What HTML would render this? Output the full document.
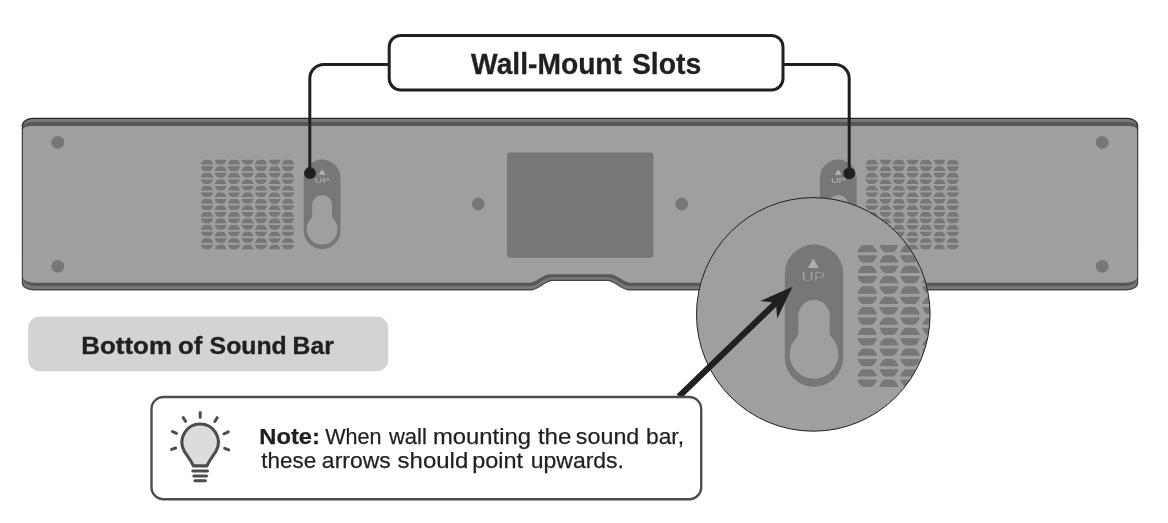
<!DOCTYPE html>
<html lang="en"><head><meta charset="utf-8"><title>Wall-Mount Slots</title>
<style>
html,body{margin:0;padding:0;background:#fff;}
body{width:1168px;height:523px;overflow:hidden;font-family:"Liberation Sans",sans-serif;}
svg{display:block;}
svg{will-change:transform;}
</style></head><body>
<svg width="1168" height="523" viewBox="0 0 1168 523">
<rect width="1168" height="523" fill="#fff"/>

<defs><linearGradient id="og" gradientUnits="userSpaceOnUse" x1="0" y1="118" x2="0" y2="290"><stop offset="0" stop-color="#28292a"/><stop offset="0.9" stop-color="#3a3b3c"/><stop offset="1" stop-color="#4c4e4e"/></linearGradient></defs>
<g id="barbody">
<path d="M32.95,118.40 L1127.05,118.40 C1132.85,118.40 1137.55,121.53 1137.55,125.40 L1137.55,283.20 C1137.55,286.79 1132.85,289.70 1127.05,289.70 L628.3,289.7 C621.8,289.7 614.2,280.4 607.7,280.4 L552.0,280.4 C545.5,280.4 538.2,289.7 531.7,289.7 L32.95,289.70 C27.15,289.70 22.45,286.79 22.45,283.20 L22.45,125.40 C22.45,121.53 27.15,118.40 32.95,118.40 Z" fill="#767777" stroke="url(#og)" stroke-width="1.35"/>
<path d="M33.30,122.00 L1126.70,122.00 C1132.50,122.00 1137.20,124.01 1137.20,126.50 L1137.20,279.00 C1137.20,282.87 1130.93,286.00 1123.20,286.00 L629.5,286.0 C623.0,286.0 615.2,277.2 608.7,277.2 L551.0,277.2 C544.5,277.2 537.0,286.0 530.5,286.0 L36.80,286.00 C29.07,286.00 22.80,282.87 22.80,279.00 L22.80,126.50 C22.80,124.01 27.50,122.00 33.30,122.00 Z" fill="#575959"/>
<path d="M32.40,126.00 L1127.60,126.00 C1132.85,126.00 1137.10,127.57 1137.10,129.50 L1137.10,277.30 C1137.10,280.34 1131.28,282.80 1124.10,282.80 L630.8,282.8 C624.3,282.8 616.3,274.2 609.8,274.2 L549.9,274.2 C543.4,274.2 535.7,282.8 529.2,282.8 L35.90,282.80 C28.72,282.80 22.90,280.34 22.90,277.30 L22.90,129.50 C22.90,127.57 27.15,126.00 32.40,126.00 Z" fill="#9e9fa1"/>
</g>

<circle cx="57.8" cy="142.3" r="6.4" fill="#777777"/><circle cx="57.8" cy="266.3" r="6.4" fill="#777777"/><circle cx="1102.2" cy="142.3" r="6.4" fill="#777777"/><circle cx="1102.2" cy="266.3" r="6.4" fill="#777777"/><circle cx="478.2" cy="204" r="6.4" fill="#777777"/><circle cx="681.8" cy="204" r="6.4" fill="#777777"/>
<rect x="507.0" y="152.5" width="146.4" height="105.3" rx="3.2" fill="#777777"/>
<path fill="#777777" d="M201.00,164.40 L201.00,163.50 C202.00,161.90 202.90,159.80 204.80,159.80 L209.20,159.80 C211.10,159.80 212.00,161.90 213.00,163.50 L213.00,164.40 Z M201.00,166.33 L201.00,167.23 C202.00,168.83 202.90,170.93 204.80,170.93 L209.20,170.93 C211.10,170.93 212.00,168.83 213.00,167.23 L213.00,166.33 Z M201.00,177.46 L201.00,176.56 C202.00,174.96 202.90,172.86 204.80,172.86 L209.20,172.86 C211.10,172.86 212.00,174.96 213.00,176.56 L213.00,177.46 Z M201.00,179.39 L201.00,180.29 C202.00,181.89 202.90,183.99 204.80,183.99 L209.20,183.99 C211.10,183.99 212.00,181.89 213.00,180.29 L213.00,179.39 Z M201.00,190.52 L201.00,189.62 C202.00,188.02 202.90,185.92 204.80,185.92 L209.20,185.92 C211.10,185.92 212.00,188.02 213.00,189.62 L213.00,190.52 Z M201.00,192.45 L201.00,193.35 C202.00,194.95 202.90,197.05 204.80,197.05 L209.20,197.05 C211.10,197.05 212.00,194.95 213.00,193.35 L213.00,192.45 Z M201.00,203.58 L201.00,202.68 C202.00,201.08 202.90,198.98 204.80,198.98 L209.20,198.98 C211.10,198.98 212.00,201.08 213.00,202.68 L213.00,203.58 Z M201.00,205.51 L201.00,206.41 C202.00,208.01 202.90,210.11 204.80,210.11 L209.20,210.11 C211.10,210.11 212.00,208.01 213.00,206.41 L213.00,205.51 Z M201.00,216.64 L201.00,215.74 C202.00,214.14 202.90,212.04 204.80,212.04 L209.20,212.04 C211.10,212.04 212.00,214.14 213.00,215.74 L213.00,216.64 Z M201.00,218.57 L201.00,219.47 C202.00,221.07 202.90,223.17 204.80,223.17 L209.20,223.17 C211.10,223.17 212.00,221.07 213.00,219.47 L213.00,218.57 Z M201.00,229.70 L201.00,228.80 C202.00,227.20 202.90,225.10 204.80,225.10 L209.20,225.10 C211.10,225.10 212.00,227.20 213.00,228.80 L213.00,229.70 Z M201.00,231.63 L201.00,232.53 C202.00,234.13 202.90,236.23 204.80,236.23 L209.20,236.23 C211.10,236.23 212.00,234.13 213.00,232.53 L213.00,231.63 Z M201.00,242.76 L201.00,241.86 C202.00,240.26 202.90,238.16 204.80,238.16 L209.20,238.16 C211.10,238.16 212.00,240.26 213.00,241.86 L213.00,242.76 Z M201.00,244.69 L201.00,245.59 C202.00,247.19 202.90,249.29 204.80,249.29 L209.20,249.29 C211.10,249.29 212.00,247.19 213.00,245.59 L213.00,244.69 Z M214.85,159.80 L214.85,160.70 C215.85,162.30 216.75,164.40 218.65,164.40 L222.65,164.40 C224.55,164.40 225.45,162.30 226.45,160.70 L226.45,159.80 Z M214.85,170.93 L214.85,170.03 C215.85,168.43 216.75,166.33 218.65,166.33 L222.65,166.33 C224.55,166.33 225.45,168.43 226.45,170.03 L226.45,170.93 Z M214.85,172.86 L214.85,173.76 C215.85,175.36 216.75,177.46 218.65,177.46 L222.65,177.46 C224.55,177.46 225.45,175.36 226.45,173.76 L226.45,172.86 Z M214.85,183.99 L214.85,183.09 C215.85,181.49 216.75,179.39 218.65,179.39 L222.65,179.39 C224.55,179.39 225.45,181.49 226.45,183.09 L226.45,183.99 Z M214.85,185.92 L214.85,186.82 C215.85,188.42 216.75,190.52 218.65,190.52 L222.65,190.52 C224.55,190.52 225.45,188.42 226.45,186.82 L226.45,185.92 Z M214.85,197.05 L214.85,196.15 C215.85,194.55 216.75,192.45 218.65,192.45 L222.65,192.45 C224.55,192.45 225.45,194.55 226.45,196.15 L226.45,197.05 Z M214.85,198.98 L214.85,199.88 C215.85,201.48 216.75,203.58 218.65,203.58 L222.65,203.58 C224.55,203.58 225.45,201.48 226.45,199.88 L226.45,198.98 Z M214.85,210.11 L214.85,209.21 C215.85,207.61 216.75,205.51 218.65,205.51 L222.65,205.51 C224.55,205.51 225.45,207.61 226.45,209.21 L226.45,210.11 Z M214.85,212.04 L214.85,212.94 C215.85,214.54 216.75,216.64 218.65,216.64 L222.65,216.64 C224.55,216.64 225.45,214.54 226.45,212.94 L226.45,212.04 Z M214.85,223.17 L214.85,222.27 C215.85,220.67 216.75,218.57 218.65,218.57 L222.65,218.57 C224.55,218.57 225.45,220.67 226.45,222.27 L226.45,223.17 Z M214.85,225.10 L214.85,226.00 C215.85,227.60 216.75,229.70 218.65,229.70 L222.65,229.70 C224.55,229.70 225.45,227.60 226.45,226.00 L226.45,225.10 Z M214.85,236.23 L214.85,235.33 C215.85,233.73 216.75,231.63 218.65,231.63 L222.65,231.63 C224.55,231.63 225.45,233.73 226.45,235.33 L226.45,236.23 Z M214.85,238.16 L214.85,239.06 C215.85,240.66 216.75,242.76 218.65,242.76 L222.65,242.76 C224.55,242.76 225.45,240.66 226.45,239.06 L226.45,238.16 Z M214.85,249.29 L214.85,248.39 C215.85,246.79 216.75,244.69 218.65,244.69 L222.65,244.69 C224.55,244.69 225.45,246.79 226.45,248.39 L226.45,249.29 Z M228.00,164.40 L228.00,163.50 C229.00,161.90 229.90,159.80 231.80,159.80 L236.20,159.80 C238.10,159.80 239.00,161.90 240.00,163.50 L240.00,164.40 Z M228.00,166.33 L228.00,167.23 C229.00,168.83 229.90,170.93 231.80,170.93 L236.20,170.93 C238.10,170.93 239.00,168.83 240.00,167.23 L240.00,166.33 Z M228.00,177.46 L228.00,176.56 C229.00,174.96 229.90,172.86 231.80,172.86 L236.20,172.86 C238.10,172.86 239.00,174.96 240.00,176.56 L240.00,177.46 Z M228.00,179.39 L228.00,180.29 C229.00,181.89 229.90,183.99 231.80,183.99 L236.20,183.99 C238.10,183.99 239.00,181.89 240.00,180.29 L240.00,179.39 Z M228.00,190.52 L228.00,189.62 C229.00,188.02 229.90,185.92 231.80,185.92 L236.20,185.92 C238.10,185.92 239.00,188.02 240.00,189.62 L240.00,190.52 Z M228.00,192.45 L228.00,193.35 C229.00,194.95 229.90,197.05 231.80,197.05 L236.20,197.05 C238.10,197.05 239.00,194.95 240.00,193.35 L240.00,192.45 Z M228.00,203.58 L228.00,202.68 C229.00,201.08 229.90,198.98 231.80,198.98 L236.20,198.98 C238.10,198.98 239.00,201.08 240.00,202.68 L240.00,203.58 Z M228.00,205.51 L228.00,206.41 C229.00,208.01 229.90,210.11 231.80,210.11 L236.20,210.11 C238.10,210.11 239.00,208.01 240.00,206.41 L240.00,205.51 Z M228.00,216.64 L228.00,215.74 C229.00,214.14 229.90,212.04 231.80,212.04 L236.20,212.04 C238.10,212.04 239.00,214.14 240.00,215.74 L240.00,216.64 Z M228.00,218.57 L228.00,219.47 C229.00,221.07 229.90,223.17 231.80,223.17 L236.20,223.17 C238.10,223.17 239.00,221.07 240.00,219.47 L240.00,218.57 Z M228.00,229.70 L228.00,228.80 C229.00,227.20 229.90,225.10 231.80,225.10 L236.20,225.10 C238.10,225.10 239.00,227.20 240.00,228.80 L240.00,229.70 Z M228.00,231.63 L228.00,232.53 C229.00,234.13 229.90,236.23 231.80,236.23 L236.20,236.23 C238.10,236.23 239.00,234.13 240.00,232.53 L240.00,231.63 Z M228.00,242.76 L228.00,241.86 C229.00,240.26 229.90,238.16 231.80,238.16 L236.20,238.16 C238.10,238.16 239.00,240.26 240.00,241.86 L240.00,242.76 Z M228.00,244.69 L228.00,245.59 C229.00,247.19 229.90,249.29 231.80,249.29 L236.20,249.29 C238.10,249.29 239.00,247.19 240.00,245.59 L240.00,244.69 Z M241.85,159.80 L241.85,160.70 C242.85,162.30 243.75,164.40 245.65,164.40 L249.65,164.40 C251.55,164.40 252.45,162.30 253.45,160.70 L253.45,159.80 Z M241.85,170.93 L241.85,170.03 C242.85,168.43 243.75,166.33 245.65,166.33 L249.65,166.33 C251.55,166.33 252.45,168.43 253.45,170.03 L253.45,170.93 Z M241.85,172.86 L241.85,173.76 C242.85,175.36 243.75,177.46 245.65,177.46 L249.65,177.46 C251.55,177.46 252.45,175.36 253.45,173.76 L253.45,172.86 Z M241.85,183.99 L241.85,183.09 C242.85,181.49 243.75,179.39 245.65,179.39 L249.65,179.39 C251.55,179.39 252.45,181.49 253.45,183.09 L253.45,183.99 Z M241.85,185.92 L241.85,186.82 C242.85,188.42 243.75,190.52 245.65,190.52 L249.65,190.52 C251.55,190.52 252.45,188.42 253.45,186.82 L253.45,185.92 Z M241.85,197.05 L241.85,196.15 C242.85,194.55 243.75,192.45 245.65,192.45 L249.65,192.45 C251.55,192.45 252.45,194.55 253.45,196.15 L253.45,197.05 Z M241.85,198.98 L241.85,199.88 C242.85,201.48 243.75,203.58 245.65,203.58 L249.65,203.58 C251.55,203.58 252.45,201.48 253.45,199.88 L253.45,198.98 Z M241.85,210.11 L241.85,209.21 C242.85,207.61 243.75,205.51 245.65,205.51 L249.65,205.51 C251.55,205.51 252.45,207.61 253.45,209.21 L253.45,210.11 Z M241.85,212.04 L241.85,212.94 C242.85,214.54 243.75,216.64 245.65,216.64 L249.65,216.64 C251.55,216.64 252.45,214.54 253.45,212.94 L253.45,212.04 Z M241.85,223.17 L241.85,222.27 C242.85,220.67 243.75,218.57 245.65,218.57 L249.65,218.57 C251.55,218.57 252.45,220.67 253.45,222.27 L253.45,223.17 Z M241.85,225.10 L241.85,226.00 C242.85,227.60 243.75,229.70 245.65,229.70 L249.65,229.70 C251.55,229.70 252.45,227.60 253.45,226.00 L253.45,225.10 Z M241.85,236.23 L241.85,235.33 C242.85,233.73 243.75,231.63 245.65,231.63 L249.65,231.63 C251.55,231.63 252.45,233.73 253.45,235.33 L253.45,236.23 Z M241.85,238.16 L241.85,239.06 C242.85,240.66 243.75,242.76 245.65,242.76 L249.65,242.76 C251.55,242.76 252.45,240.66 253.45,239.06 L253.45,238.16 Z M241.85,249.29 L241.85,248.39 C242.85,246.79 243.75,244.69 245.65,244.69 L249.65,244.69 C251.55,244.69 252.45,246.79 253.45,248.39 L253.45,249.29 Z M255.00,164.40 L255.00,163.50 C256.00,161.90 256.90,159.80 258.80,159.80 L263.20,159.80 C265.10,159.80 266.00,161.90 267.00,163.50 L267.00,164.40 Z M255.00,166.33 L255.00,167.23 C256.00,168.83 256.90,170.93 258.80,170.93 L263.20,170.93 C265.10,170.93 266.00,168.83 267.00,167.23 L267.00,166.33 Z M255.00,177.46 L255.00,176.56 C256.00,174.96 256.90,172.86 258.80,172.86 L263.20,172.86 C265.10,172.86 266.00,174.96 267.00,176.56 L267.00,177.46 Z M255.00,179.39 L255.00,180.29 C256.00,181.89 256.90,183.99 258.80,183.99 L263.20,183.99 C265.10,183.99 266.00,181.89 267.00,180.29 L267.00,179.39 Z M255.00,190.52 L255.00,189.62 C256.00,188.02 256.90,185.92 258.80,185.92 L263.20,185.92 C265.10,185.92 266.00,188.02 267.00,189.62 L267.00,190.52 Z M255.00,192.45 L255.00,193.35 C256.00,194.95 256.90,197.05 258.80,197.05 L263.20,197.05 C265.10,197.05 266.00,194.95 267.00,193.35 L267.00,192.45 Z M255.00,203.58 L255.00,202.68 C256.00,201.08 256.90,198.98 258.80,198.98 L263.20,198.98 C265.10,198.98 266.00,201.08 267.00,202.68 L267.00,203.58 Z M255.00,205.51 L255.00,206.41 C256.00,208.01 256.90,210.11 258.80,210.11 L263.20,210.11 C265.10,210.11 266.00,208.01 267.00,206.41 L267.00,205.51 Z M255.00,216.64 L255.00,215.74 C256.00,214.14 256.90,212.04 258.80,212.04 L263.20,212.04 C265.10,212.04 266.00,214.14 267.00,215.74 L267.00,216.64 Z M255.00,218.57 L255.00,219.47 C256.00,221.07 256.90,223.17 258.80,223.17 L263.20,223.17 C265.10,223.17 266.00,221.07 267.00,219.47 L267.00,218.57 Z M255.00,229.70 L255.00,228.80 C256.00,227.20 256.90,225.10 258.80,225.10 L263.20,225.10 C265.10,225.10 266.00,227.20 267.00,228.80 L267.00,229.70 Z M255.00,231.63 L255.00,232.53 C256.00,234.13 256.90,236.23 258.80,236.23 L263.20,236.23 C265.10,236.23 266.00,234.13 267.00,232.53 L267.00,231.63 Z M255.00,242.76 L255.00,241.86 C256.00,240.26 256.90,238.16 258.80,238.16 L263.20,238.16 C265.10,238.16 266.00,240.26 267.00,241.86 L267.00,242.76 Z M255.00,244.69 L255.00,245.59 C256.00,247.19 256.90,249.29 258.80,249.29 L263.20,249.29 C265.10,249.29 266.00,247.19 267.00,245.59 L267.00,244.69 Z M268.85,159.80 L268.85,160.70 C269.85,162.30 270.75,164.40 272.65,164.40 L276.65,164.40 C278.55,164.40 279.45,162.30 280.45,160.70 L280.45,159.80 Z M268.85,170.93 L268.85,170.03 C269.85,168.43 270.75,166.33 272.65,166.33 L276.65,166.33 C278.55,166.33 279.45,168.43 280.45,170.03 L280.45,170.93 Z M268.85,172.86 L268.85,173.76 C269.85,175.36 270.75,177.46 272.65,177.46 L276.65,177.46 C278.55,177.46 279.45,175.36 280.45,173.76 L280.45,172.86 Z M268.85,183.99 L268.85,183.09 C269.85,181.49 270.75,179.39 272.65,179.39 L276.65,179.39 C278.55,179.39 279.45,181.49 280.45,183.09 L280.45,183.99 Z M268.85,185.92 L268.85,186.82 C269.85,188.42 270.75,190.52 272.65,190.52 L276.65,190.52 C278.55,190.52 279.45,188.42 280.45,186.82 L280.45,185.92 Z M268.85,197.05 L268.85,196.15 C269.85,194.55 270.75,192.45 272.65,192.45 L276.65,192.45 C278.55,192.45 279.45,194.55 280.45,196.15 L280.45,197.05 Z M268.85,198.98 L268.85,199.88 C269.85,201.48 270.75,203.58 272.65,203.58 L276.65,203.58 C278.55,203.58 279.45,201.48 280.45,199.88 L280.45,198.98 Z M268.85,210.11 L268.85,209.21 C269.85,207.61 270.75,205.51 272.65,205.51 L276.65,205.51 C278.55,205.51 279.45,207.61 280.45,209.21 L280.45,210.11 Z M268.85,212.04 L268.85,212.94 C269.85,214.54 270.75,216.64 272.65,216.64 L276.65,216.64 C278.55,216.64 279.45,214.54 280.45,212.94 L280.45,212.04 Z M268.85,223.17 L268.85,222.27 C269.85,220.67 270.75,218.57 272.65,218.57 L276.65,218.57 C278.55,218.57 279.45,220.67 280.45,222.27 L280.45,223.17 Z M268.85,225.10 L268.85,226.00 C269.85,227.60 270.75,229.70 272.65,229.70 L276.65,229.70 C278.55,229.70 279.45,227.60 280.45,226.00 L280.45,225.10 Z M268.85,236.23 L268.85,235.33 C269.85,233.73 270.75,231.63 272.65,231.63 L276.65,231.63 C278.55,231.63 279.45,233.73 280.45,235.33 L280.45,236.23 Z M268.85,238.16 L268.85,239.06 C269.85,240.66 270.75,242.76 272.65,242.76 L276.65,242.76 C278.55,242.76 279.45,240.66 280.45,239.06 L280.45,238.16 Z M268.85,249.29 L268.85,248.39 C269.85,246.79 270.75,244.69 272.65,244.69 L276.65,244.69 C278.55,244.69 279.45,246.79 280.45,248.39 L280.45,249.29 Z M282.00,164.40 L282.00,163.50 C283.00,161.90 283.90,159.80 285.80,159.80 L290.20,159.80 C292.10,159.80 293.00,161.90 294.00,163.50 L294.00,164.40 Z M282.00,166.33 L282.00,167.23 C283.00,168.83 283.90,170.93 285.80,170.93 L290.20,170.93 C292.10,170.93 293.00,168.83 294.00,167.23 L294.00,166.33 Z M282.00,177.46 L282.00,176.56 C283.00,174.96 283.90,172.86 285.80,172.86 L290.20,172.86 C292.10,172.86 293.00,174.96 294.00,176.56 L294.00,177.46 Z M282.00,179.39 L282.00,180.29 C283.00,181.89 283.90,183.99 285.80,183.99 L290.20,183.99 C292.10,183.99 293.00,181.89 294.00,180.29 L294.00,179.39 Z M282.00,190.52 L282.00,189.62 C283.00,188.02 283.90,185.92 285.80,185.92 L290.20,185.92 C292.10,185.92 293.00,188.02 294.00,189.62 L294.00,190.52 Z M282.00,192.45 L282.00,193.35 C283.00,194.95 283.90,197.05 285.80,197.05 L290.20,197.05 C292.10,197.05 293.00,194.95 294.00,193.35 L294.00,192.45 Z M282.00,203.58 L282.00,202.68 C283.00,201.08 283.90,198.98 285.80,198.98 L290.20,198.98 C292.10,198.98 293.00,201.08 294.00,202.68 L294.00,203.58 Z M282.00,205.51 L282.00,206.41 C283.00,208.01 283.90,210.11 285.80,210.11 L290.20,210.11 C292.10,210.11 293.00,208.01 294.00,206.41 L294.00,205.51 Z M282.00,216.64 L282.00,215.74 C283.00,214.14 283.90,212.04 285.80,212.04 L290.20,212.04 C292.10,212.04 293.00,214.14 294.00,215.74 L294.00,216.64 Z M282.00,218.57 L282.00,219.47 C283.00,221.07 283.90,223.17 285.80,223.17 L290.20,223.17 C292.10,223.17 293.00,221.07 294.00,219.47 L294.00,218.57 Z M282.00,229.70 L282.00,228.80 C283.00,227.20 283.90,225.10 285.80,225.10 L290.20,225.10 C292.10,225.10 293.00,227.20 294.00,228.80 L294.00,229.70 Z M282.00,231.63 L282.00,232.53 C283.00,234.13 283.90,236.23 285.80,236.23 L290.20,236.23 C292.10,236.23 293.00,234.13 294.00,232.53 L294.00,231.63 Z M282.00,242.76 L282.00,241.86 C283.00,240.26 283.90,238.16 285.80,238.16 L290.20,238.16 C292.10,238.16 293.00,240.26 294.00,241.86 L294.00,242.76 Z M282.00,244.69 L282.00,245.59 C283.00,247.19 283.90,249.29 285.80,249.29 L290.20,249.29 C292.10,249.29 293.00,247.19 294.00,245.59 L294.00,244.69 Z"/><path fill="#777777" d="M303.70,177.90 A18.40,18.40 0 0 1 340.50,177.90 L340.50,230.80 A18.40,18.40 0 0 1 303.70,230.80 Z"/><path fill="#9e9fa1" d="M312.20,204.80 A9.9,9.9 0 0 1 332.00,204.80 L332.00,215.39 A5.0,5.0 0 0 0 333.34,218.80 A15.35,15.35 0 1 1 310.86,218.80 A5.0,5.0 0 0 0 312.20,215.39 Z"/><path fill="#b4b5b7" d="M318.70,174.8 L322.10,169.2 L325.50,174.8 Z"/><text x="314.80" y="183.1" font-family="'Liberation Sans', sans-serif" font-size="8.0" textLength="14.6" lengthAdjust="spacingAndGlyphs" fill="#b4b5b7" stroke="#777777" stroke-width="0.0">UP</text>
<path fill="#777777" d="M819.85,177.90 A18.40,18.40 0 0 1 856.65,177.90 L856.65,230.80 A18.40,18.40 0 0 1 819.85,230.80 Z"/><path fill="#9e9fa1" d="M828.35,204.80 A9.9,9.9 0 0 1 848.15,204.80 L848.15,215.39 A5.0,5.0 0 0 0 849.49,218.80 A15.35,15.35 0 1 1 827.01,218.80 A5.0,5.0 0 0 0 828.35,215.39 Z"/><path fill="#b4b5b7" d="M834.85,174.8 L838.25,169.2 L841.65,174.8 Z"/><text x="830.95" y="183.1" font-family="'Liberation Sans', sans-serif" font-size="8.0" textLength="14.6" lengthAdjust="spacingAndGlyphs" fill="#b4b5b7" stroke="#777777" stroke-width="0.0">UP</text><g id="rgrille"><path fill="#777777" d="M865.80,164.40 L865.80,163.50 C866.80,161.90 867.70,159.80 869.60,159.80 L874.00,159.80 C875.90,159.80 876.80,161.90 877.80,163.50 L877.80,164.40 Z M865.80,166.33 L865.80,167.23 C866.80,168.83 867.70,170.93 869.60,170.93 L874.00,170.93 C875.90,170.93 876.80,168.83 877.80,167.23 L877.80,166.33 Z M865.80,177.46 L865.80,176.56 C866.80,174.96 867.70,172.86 869.60,172.86 L874.00,172.86 C875.90,172.86 876.80,174.96 877.80,176.56 L877.80,177.46 Z M865.80,179.39 L865.80,180.29 C866.80,181.89 867.70,183.99 869.60,183.99 L874.00,183.99 C875.90,183.99 876.80,181.89 877.80,180.29 L877.80,179.39 Z M865.80,190.52 L865.80,189.62 C866.80,188.02 867.70,185.92 869.60,185.92 L874.00,185.92 C875.90,185.92 876.80,188.02 877.80,189.62 L877.80,190.52 Z M865.80,192.45 L865.80,193.35 C866.80,194.95 867.70,197.05 869.60,197.05 L874.00,197.05 C875.90,197.05 876.80,194.95 877.80,193.35 L877.80,192.45 Z M865.80,203.58 L865.80,202.68 C866.80,201.08 867.70,198.98 869.60,198.98 L874.00,198.98 C875.90,198.98 876.80,201.08 877.80,202.68 L877.80,203.58 Z M865.80,205.51 L865.80,206.41 C866.80,208.01 867.70,210.11 869.60,210.11 L874.00,210.11 C875.90,210.11 876.80,208.01 877.80,206.41 L877.80,205.51 Z M865.80,216.64 L865.80,215.74 C866.80,214.14 867.70,212.04 869.60,212.04 L874.00,212.04 C875.90,212.04 876.80,214.14 877.80,215.74 L877.80,216.64 Z M865.80,218.57 L865.80,219.47 C866.80,221.07 867.70,223.17 869.60,223.17 L874.00,223.17 C875.90,223.17 876.80,221.07 877.80,219.47 L877.80,218.57 Z M865.80,229.70 L865.80,228.80 C866.80,227.20 867.70,225.10 869.60,225.10 L874.00,225.10 C875.90,225.10 876.80,227.20 877.80,228.80 L877.80,229.70 Z M865.80,231.63 L865.80,232.53 C866.80,234.13 867.70,236.23 869.60,236.23 L874.00,236.23 C875.90,236.23 876.80,234.13 877.80,232.53 L877.80,231.63 Z M865.80,242.76 L865.80,241.86 C866.80,240.26 867.70,238.16 869.60,238.16 L874.00,238.16 C875.90,238.16 876.80,240.26 877.80,241.86 L877.80,242.76 Z M865.80,244.69 L865.80,245.59 C866.80,247.19 867.70,249.29 869.60,249.29 L874.00,249.29 C875.90,249.29 876.80,247.19 877.80,245.59 L877.80,244.69 Z M879.65,159.80 L879.65,160.70 C880.65,162.30 881.55,164.40 883.45,164.40 L887.45,164.40 C889.35,164.40 890.25,162.30 891.25,160.70 L891.25,159.80 Z M879.65,170.93 L879.65,170.03 C880.65,168.43 881.55,166.33 883.45,166.33 L887.45,166.33 C889.35,166.33 890.25,168.43 891.25,170.03 L891.25,170.93 Z M879.65,172.86 L879.65,173.76 C880.65,175.36 881.55,177.46 883.45,177.46 L887.45,177.46 C889.35,177.46 890.25,175.36 891.25,173.76 L891.25,172.86 Z M879.65,183.99 L879.65,183.09 C880.65,181.49 881.55,179.39 883.45,179.39 L887.45,179.39 C889.35,179.39 890.25,181.49 891.25,183.09 L891.25,183.99 Z M879.65,185.92 L879.65,186.82 C880.65,188.42 881.55,190.52 883.45,190.52 L887.45,190.52 C889.35,190.52 890.25,188.42 891.25,186.82 L891.25,185.92 Z M879.65,197.05 L879.65,196.15 C880.65,194.55 881.55,192.45 883.45,192.45 L887.45,192.45 C889.35,192.45 890.25,194.55 891.25,196.15 L891.25,197.05 Z M879.65,198.98 L879.65,199.88 C880.65,201.48 881.55,203.58 883.45,203.58 L887.45,203.58 C889.35,203.58 890.25,201.48 891.25,199.88 L891.25,198.98 Z M879.65,210.11 L879.65,209.21 C880.65,207.61 881.55,205.51 883.45,205.51 L887.45,205.51 C889.35,205.51 890.25,207.61 891.25,209.21 L891.25,210.11 Z M879.65,212.04 L879.65,212.94 C880.65,214.54 881.55,216.64 883.45,216.64 L887.45,216.64 C889.35,216.64 890.25,214.54 891.25,212.94 L891.25,212.04 Z M879.65,223.17 L879.65,222.27 C880.65,220.67 881.55,218.57 883.45,218.57 L887.45,218.57 C889.35,218.57 890.25,220.67 891.25,222.27 L891.25,223.17 Z M879.65,225.10 L879.65,226.00 C880.65,227.60 881.55,229.70 883.45,229.70 L887.45,229.70 C889.35,229.70 890.25,227.60 891.25,226.00 L891.25,225.10 Z M879.65,236.23 L879.65,235.33 C880.65,233.73 881.55,231.63 883.45,231.63 L887.45,231.63 C889.35,231.63 890.25,233.73 891.25,235.33 L891.25,236.23 Z M879.65,238.16 L879.65,239.06 C880.65,240.66 881.55,242.76 883.45,242.76 L887.45,242.76 C889.35,242.76 890.25,240.66 891.25,239.06 L891.25,238.16 Z M879.65,249.29 L879.65,248.39 C880.65,246.79 881.55,244.69 883.45,244.69 L887.45,244.69 C889.35,244.69 890.25,246.79 891.25,248.39 L891.25,249.29 Z M892.80,164.40 L892.80,163.50 C893.80,161.90 894.70,159.80 896.60,159.80 L901.00,159.80 C902.90,159.80 903.80,161.90 904.80,163.50 L904.80,164.40 Z M892.80,166.33 L892.80,167.23 C893.80,168.83 894.70,170.93 896.60,170.93 L901.00,170.93 C902.90,170.93 903.80,168.83 904.80,167.23 L904.80,166.33 Z M892.80,177.46 L892.80,176.56 C893.80,174.96 894.70,172.86 896.60,172.86 L901.00,172.86 C902.90,172.86 903.80,174.96 904.80,176.56 L904.80,177.46 Z M892.80,179.39 L892.80,180.29 C893.80,181.89 894.70,183.99 896.60,183.99 L901.00,183.99 C902.90,183.99 903.80,181.89 904.80,180.29 L904.80,179.39 Z M892.80,190.52 L892.80,189.62 C893.80,188.02 894.70,185.92 896.60,185.92 L901.00,185.92 C902.90,185.92 903.80,188.02 904.80,189.62 L904.80,190.52 Z M892.80,192.45 L892.80,193.35 C893.80,194.95 894.70,197.05 896.60,197.05 L901.00,197.05 C902.90,197.05 903.80,194.95 904.80,193.35 L904.80,192.45 Z M892.80,203.58 L892.80,202.68 C893.80,201.08 894.70,198.98 896.60,198.98 L901.00,198.98 C902.90,198.98 903.80,201.08 904.80,202.68 L904.80,203.58 Z M892.80,205.51 L892.80,206.41 C893.80,208.01 894.70,210.11 896.60,210.11 L901.00,210.11 C902.90,210.11 903.80,208.01 904.80,206.41 L904.80,205.51 Z M892.80,216.64 L892.80,215.74 C893.80,214.14 894.70,212.04 896.60,212.04 L901.00,212.04 C902.90,212.04 903.80,214.14 904.80,215.74 L904.80,216.64 Z M892.80,218.57 L892.80,219.47 C893.80,221.07 894.70,223.17 896.60,223.17 L901.00,223.17 C902.90,223.17 903.80,221.07 904.80,219.47 L904.80,218.57 Z M892.80,229.70 L892.80,228.80 C893.80,227.20 894.70,225.10 896.60,225.10 L901.00,225.10 C902.90,225.10 903.80,227.20 904.80,228.80 L904.80,229.70 Z M892.80,231.63 L892.80,232.53 C893.80,234.13 894.70,236.23 896.60,236.23 L901.00,236.23 C902.90,236.23 903.80,234.13 904.80,232.53 L904.80,231.63 Z M892.80,242.76 L892.80,241.86 C893.80,240.26 894.70,238.16 896.60,238.16 L901.00,238.16 C902.90,238.16 903.80,240.26 904.80,241.86 L904.80,242.76 Z M892.80,244.69 L892.80,245.59 C893.80,247.19 894.70,249.29 896.60,249.29 L901.00,249.29 C902.90,249.29 903.80,247.19 904.80,245.59 L904.80,244.69 Z M906.65,159.80 L906.65,160.70 C907.65,162.30 908.55,164.40 910.45,164.40 L914.45,164.40 C916.35,164.40 917.25,162.30 918.25,160.70 L918.25,159.80 Z M906.65,170.93 L906.65,170.03 C907.65,168.43 908.55,166.33 910.45,166.33 L914.45,166.33 C916.35,166.33 917.25,168.43 918.25,170.03 L918.25,170.93 Z M906.65,172.86 L906.65,173.76 C907.65,175.36 908.55,177.46 910.45,177.46 L914.45,177.46 C916.35,177.46 917.25,175.36 918.25,173.76 L918.25,172.86 Z M906.65,183.99 L906.65,183.09 C907.65,181.49 908.55,179.39 910.45,179.39 L914.45,179.39 C916.35,179.39 917.25,181.49 918.25,183.09 L918.25,183.99 Z M906.65,185.92 L906.65,186.82 C907.65,188.42 908.55,190.52 910.45,190.52 L914.45,190.52 C916.35,190.52 917.25,188.42 918.25,186.82 L918.25,185.92 Z M906.65,197.05 L906.65,196.15 C907.65,194.55 908.55,192.45 910.45,192.45 L914.45,192.45 C916.35,192.45 917.25,194.55 918.25,196.15 L918.25,197.05 Z M906.65,198.98 L906.65,199.88 C907.65,201.48 908.55,203.58 910.45,203.58 L914.45,203.58 C916.35,203.58 917.25,201.48 918.25,199.88 L918.25,198.98 Z M906.65,210.11 L906.65,209.21 C907.65,207.61 908.55,205.51 910.45,205.51 L914.45,205.51 C916.35,205.51 917.25,207.61 918.25,209.21 L918.25,210.11 Z M906.65,212.04 L906.65,212.94 C907.65,214.54 908.55,216.64 910.45,216.64 L914.45,216.64 C916.35,216.64 917.25,214.54 918.25,212.94 L918.25,212.04 Z M906.65,223.17 L906.65,222.27 C907.65,220.67 908.55,218.57 910.45,218.57 L914.45,218.57 C916.35,218.57 917.25,220.67 918.25,222.27 L918.25,223.17 Z M906.65,225.10 L906.65,226.00 C907.65,227.60 908.55,229.70 910.45,229.70 L914.45,229.70 C916.35,229.70 917.25,227.60 918.25,226.00 L918.25,225.10 Z M906.65,236.23 L906.65,235.33 C907.65,233.73 908.55,231.63 910.45,231.63 L914.45,231.63 C916.35,231.63 917.25,233.73 918.25,235.33 L918.25,236.23 Z M906.65,238.16 L906.65,239.06 C907.65,240.66 908.55,242.76 910.45,242.76 L914.45,242.76 C916.35,242.76 917.25,240.66 918.25,239.06 L918.25,238.16 Z M906.65,249.29 L906.65,248.39 C907.65,246.79 908.55,244.69 910.45,244.69 L914.45,244.69 C916.35,244.69 917.25,246.79 918.25,248.39 L918.25,249.29 Z M919.80,164.40 L919.80,163.50 C920.80,161.90 921.70,159.80 923.60,159.80 L928.00,159.80 C929.90,159.80 930.80,161.90 931.80,163.50 L931.80,164.40 Z M919.80,166.33 L919.80,167.23 C920.80,168.83 921.70,170.93 923.60,170.93 L928.00,170.93 C929.90,170.93 930.80,168.83 931.80,167.23 L931.80,166.33 Z M919.80,177.46 L919.80,176.56 C920.80,174.96 921.70,172.86 923.60,172.86 L928.00,172.86 C929.90,172.86 930.80,174.96 931.80,176.56 L931.80,177.46 Z M919.80,179.39 L919.80,180.29 C920.80,181.89 921.70,183.99 923.60,183.99 L928.00,183.99 C929.90,183.99 930.80,181.89 931.80,180.29 L931.80,179.39 Z M919.80,190.52 L919.80,189.62 C920.80,188.02 921.70,185.92 923.60,185.92 L928.00,185.92 C929.90,185.92 930.80,188.02 931.80,189.62 L931.80,190.52 Z M919.80,192.45 L919.80,193.35 C920.80,194.95 921.70,197.05 923.60,197.05 L928.00,197.05 C929.90,197.05 930.80,194.95 931.80,193.35 L931.80,192.45 Z M919.80,203.58 L919.80,202.68 C920.80,201.08 921.70,198.98 923.60,198.98 L928.00,198.98 C929.90,198.98 930.80,201.08 931.80,202.68 L931.80,203.58 Z M919.80,205.51 L919.80,206.41 C920.80,208.01 921.70,210.11 923.60,210.11 L928.00,210.11 C929.90,210.11 930.80,208.01 931.80,206.41 L931.80,205.51 Z M919.80,216.64 L919.80,215.74 C920.80,214.14 921.70,212.04 923.60,212.04 L928.00,212.04 C929.90,212.04 930.80,214.14 931.80,215.74 L931.80,216.64 Z M919.80,218.57 L919.80,219.47 C920.80,221.07 921.70,223.17 923.60,223.17 L928.00,223.17 C929.90,223.17 930.80,221.07 931.80,219.47 L931.80,218.57 Z M919.80,229.70 L919.80,228.80 C920.80,227.20 921.70,225.10 923.60,225.10 L928.00,225.10 C929.90,225.10 930.80,227.20 931.80,228.80 L931.80,229.70 Z M919.80,231.63 L919.80,232.53 C920.80,234.13 921.70,236.23 923.60,236.23 L928.00,236.23 C929.90,236.23 930.80,234.13 931.80,232.53 L931.80,231.63 Z M919.80,242.76 L919.80,241.86 C920.80,240.26 921.70,238.16 923.60,238.16 L928.00,238.16 C929.90,238.16 930.80,240.26 931.80,241.86 L931.80,242.76 Z M919.80,244.69 L919.80,245.59 C920.80,247.19 921.70,249.29 923.60,249.29 L928.00,249.29 C929.90,249.29 930.80,247.19 931.80,245.59 L931.80,244.69 Z M933.65,159.80 L933.65,160.70 C934.65,162.30 935.55,164.40 937.45,164.40 L941.45,164.40 C943.35,164.40 944.25,162.30 945.25,160.70 L945.25,159.80 Z M933.65,170.93 L933.65,170.03 C934.65,168.43 935.55,166.33 937.45,166.33 L941.45,166.33 C943.35,166.33 944.25,168.43 945.25,170.03 L945.25,170.93 Z M933.65,172.86 L933.65,173.76 C934.65,175.36 935.55,177.46 937.45,177.46 L941.45,177.46 C943.35,177.46 944.25,175.36 945.25,173.76 L945.25,172.86 Z M933.65,183.99 L933.65,183.09 C934.65,181.49 935.55,179.39 937.45,179.39 L941.45,179.39 C943.35,179.39 944.25,181.49 945.25,183.09 L945.25,183.99 Z M933.65,185.92 L933.65,186.82 C934.65,188.42 935.55,190.52 937.45,190.52 L941.45,190.52 C943.35,190.52 944.25,188.42 945.25,186.82 L945.25,185.92 Z M933.65,197.05 L933.65,196.15 C934.65,194.55 935.55,192.45 937.45,192.45 L941.45,192.45 C943.35,192.45 944.25,194.55 945.25,196.15 L945.25,197.05 Z M933.65,198.98 L933.65,199.88 C934.65,201.48 935.55,203.58 937.45,203.58 L941.45,203.58 C943.35,203.58 944.25,201.48 945.25,199.88 L945.25,198.98 Z M933.65,210.11 L933.65,209.21 C934.65,207.61 935.55,205.51 937.45,205.51 L941.45,205.51 C943.35,205.51 944.25,207.61 945.25,209.21 L945.25,210.11 Z M933.65,212.04 L933.65,212.94 C934.65,214.54 935.55,216.64 937.45,216.64 L941.45,216.64 C943.35,216.64 944.25,214.54 945.25,212.94 L945.25,212.04 Z M933.65,223.17 L933.65,222.27 C934.65,220.67 935.55,218.57 937.45,218.57 L941.45,218.57 C943.35,218.57 944.25,220.67 945.25,222.27 L945.25,223.17 Z M933.65,225.10 L933.65,226.00 C934.65,227.60 935.55,229.70 937.45,229.70 L941.45,229.70 C943.35,229.70 944.25,227.60 945.25,226.00 L945.25,225.10 Z M933.65,236.23 L933.65,235.33 C934.65,233.73 935.55,231.63 937.45,231.63 L941.45,231.63 C943.35,231.63 944.25,233.73 945.25,235.33 L945.25,236.23 Z M933.65,238.16 L933.65,239.06 C934.65,240.66 935.55,242.76 937.45,242.76 L941.45,242.76 C943.35,242.76 944.25,240.66 945.25,239.06 L945.25,238.16 Z M933.65,249.29 L933.65,248.39 C934.65,246.79 935.55,244.69 937.45,244.69 L941.45,244.69 C943.35,244.69 944.25,246.79 945.25,248.39 L945.25,249.29 Z M946.80,164.40 L946.80,163.50 C947.80,161.90 948.70,159.80 950.60,159.80 L955.00,159.80 C956.90,159.80 957.80,161.90 958.80,163.50 L958.80,164.40 Z M946.80,166.33 L946.80,167.23 C947.80,168.83 948.70,170.93 950.60,170.93 L955.00,170.93 C956.90,170.93 957.80,168.83 958.80,167.23 L958.80,166.33 Z M946.80,177.46 L946.80,176.56 C947.80,174.96 948.70,172.86 950.60,172.86 L955.00,172.86 C956.90,172.86 957.80,174.96 958.80,176.56 L958.80,177.46 Z M946.80,179.39 L946.80,180.29 C947.80,181.89 948.70,183.99 950.60,183.99 L955.00,183.99 C956.90,183.99 957.80,181.89 958.80,180.29 L958.80,179.39 Z M946.80,190.52 L946.80,189.62 C947.80,188.02 948.70,185.92 950.60,185.92 L955.00,185.92 C956.90,185.92 957.80,188.02 958.80,189.62 L958.80,190.52 Z M946.80,192.45 L946.80,193.35 C947.80,194.95 948.70,197.05 950.60,197.05 L955.00,197.05 C956.90,197.05 957.80,194.95 958.80,193.35 L958.80,192.45 Z M946.80,203.58 L946.80,202.68 C947.80,201.08 948.70,198.98 950.60,198.98 L955.00,198.98 C956.90,198.98 957.80,201.08 958.80,202.68 L958.80,203.58 Z M946.80,205.51 L946.80,206.41 C947.80,208.01 948.70,210.11 950.60,210.11 L955.00,210.11 C956.90,210.11 957.80,208.01 958.80,206.41 L958.80,205.51 Z M946.80,216.64 L946.80,215.74 C947.80,214.14 948.70,212.04 950.60,212.04 L955.00,212.04 C956.90,212.04 957.80,214.14 958.80,215.74 L958.80,216.64 Z M946.80,218.57 L946.80,219.47 C947.80,221.07 948.70,223.17 950.60,223.17 L955.00,223.17 C956.90,223.17 957.80,221.07 958.80,219.47 L958.80,218.57 Z M946.80,229.70 L946.80,228.80 C947.80,227.20 948.70,225.10 950.60,225.10 L955.00,225.10 C956.90,225.10 957.80,227.20 958.80,228.80 L958.80,229.70 Z M946.80,231.63 L946.80,232.53 C947.80,234.13 948.70,236.23 950.60,236.23 L955.00,236.23 C956.90,236.23 957.80,234.13 958.80,232.53 L958.80,231.63 Z M946.80,242.76 L946.80,241.86 C947.80,240.26 948.70,238.16 950.60,238.16 L955.00,238.16 C956.90,238.16 957.80,240.26 958.80,241.86 L958.80,242.76 Z M946.80,244.69 L946.80,245.59 C947.80,247.19 948.70,249.29 950.60,249.29 L955.00,249.29 C956.90,249.29 957.80,247.19 958.80,245.59 L958.80,244.69 Z"/></g>

<clipPath id="magclip"><circle cx="813.3" cy="314.4" r="116.6"/></clipPath>
<circle cx="813.3" cy="314.4" r="116.8" fill="#9e9fa1"/>
<g clip-path="url(#magclip)">
<g transform="translate(814.0,315.6) scale(1.587) translate(-838.25,-204.35)">
<path fill="#777777" d="M819.85,177.90 A18.40,18.40 0 0 1 856.65,177.90 L856.65,230.80 A18.40,18.40 0 0 1 819.85,230.80 Z"/><path fill="#9e9fa1" d="M828.35,204.45 A9.9,9.9 0 0 1 848.15,204.45 L848.15,214.89 A5.0,5.0 0 0 0 849.49,218.30 A15.35,15.35 0 1 1 827.01,218.30 A5.0,5.0 0 0 0 828.35,214.89 Z"/><path fill="#adaeaf" d="M834.35,174.4 L837.80,168.4 L841.25,174.4 Z"/><text x="830.35" y="182.7" font-family="'Liberation Sans', sans-serif" font-size="8.3" textLength="14.9" lengthAdjust="spacingAndGlyphs" fill="#adaeaf" stroke="#777777" stroke-width="0.22">UP</text><path fill="#777777" d="M865.80,164.40 L865.80,163.50 C866.80,161.90 867.70,159.80 869.60,159.80 L874.00,159.80 C875.90,159.80 876.80,161.90 877.80,163.50 L877.80,164.40 Z M865.80,166.33 L865.80,167.23 C866.80,168.83 867.70,170.93 869.60,170.93 L874.00,170.93 C875.90,170.93 876.80,168.83 877.80,167.23 L877.80,166.33 Z M865.80,177.46 L865.80,176.56 C866.80,174.96 867.70,172.86 869.60,172.86 L874.00,172.86 C875.90,172.86 876.80,174.96 877.80,176.56 L877.80,177.46 Z M865.80,179.39 L865.80,180.29 C866.80,181.89 867.70,183.99 869.60,183.99 L874.00,183.99 C875.90,183.99 876.80,181.89 877.80,180.29 L877.80,179.39 Z M865.80,190.52 L865.80,189.62 C866.80,188.02 867.70,185.92 869.60,185.92 L874.00,185.92 C875.90,185.92 876.80,188.02 877.80,189.62 L877.80,190.52 Z M865.80,192.45 L865.80,193.35 C866.80,194.95 867.70,197.05 869.60,197.05 L874.00,197.05 C875.90,197.05 876.80,194.95 877.80,193.35 L877.80,192.45 Z M865.80,203.58 L865.80,202.68 C866.80,201.08 867.70,198.98 869.60,198.98 L874.00,198.98 C875.90,198.98 876.80,201.08 877.80,202.68 L877.80,203.58 Z M865.80,205.51 L865.80,206.41 C866.80,208.01 867.70,210.11 869.60,210.11 L874.00,210.11 C875.90,210.11 876.80,208.01 877.80,206.41 L877.80,205.51 Z M865.80,216.64 L865.80,215.74 C866.80,214.14 867.70,212.04 869.60,212.04 L874.00,212.04 C875.90,212.04 876.80,214.14 877.80,215.74 L877.80,216.64 Z M865.80,218.57 L865.80,219.47 C866.80,221.07 867.70,223.17 869.60,223.17 L874.00,223.17 C875.90,223.17 876.80,221.07 877.80,219.47 L877.80,218.57 Z M865.80,229.70 L865.80,228.80 C866.80,227.20 867.70,225.10 869.60,225.10 L874.00,225.10 C875.90,225.10 876.80,227.20 877.80,228.80 L877.80,229.70 Z M865.80,231.63 L865.80,232.53 C866.80,234.13 867.70,236.23 869.60,236.23 L874.00,236.23 C875.90,236.23 876.80,234.13 877.80,232.53 L877.80,231.63 Z M865.80,242.76 L865.80,241.86 C866.80,240.26 867.70,238.16 869.60,238.16 L874.00,238.16 C875.90,238.16 876.80,240.26 877.80,241.86 L877.80,242.76 Z M865.80,244.69 L865.80,245.59 C866.80,247.19 867.70,249.29 869.60,249.29 L874.00,249.29 C875.90,249.29 876.80,247.19 877.80,245.59 L877.80,244.69 Z M879.65,159.80 L879.65,160.70 C880.65,162.30 881.55,164.40 883.45,164.40 L887.45,164.40 C889.35,164.40 890.25,162.30 891.25,160.70 L891.25,159.80 Z M879.65,170.93 L879.65,170.03 C880.65,168.43 881.55,166.33 883.45,166.33 L887.45,166.33 C889.35,166.33 890.25,168.43 891.25,170.03 L891.25,170.93 Z M879.65,172.86 L879.65,173.76 C880.65,175.36 881.55,177.46 883.45,177.46 L887.45,177.46 C889.35,177.46 890.25,175.36 891.25,173.76 L891.25,172.86 Z M879.65,183.99 L879.65,183.09 C880.65,181.49 881.55,179.39 883.45,179.39 L887.45,179.39 C889.35,179.39 890.25,181.49 891.25,183.09 L891.25,183.99 Z M879.65,185.92 L879.65,186.82 C880.65,188.42 881.55,190.52 883.45,190.52 L887.45,190.52 C889.35,190.52 890.25,188.42 891.25,186.82 L891.25,185.92 Z M879.65,197.05 L879.65,196.15 C880.65,194.55 881.55,192.45 883.45,192.45 L887.45,192.45 C889.35,192.45 890.25,194.55 891.25,196.15 L891.25,197.05 Z M879.65,198.98 L879.65,199.88 C880.65,201.48 881.55,203.58 883.45,203.58 L887.45,203.58 C889.35,203.58 890.25,201.48 891.25,199.88 L891.25,198.98 Z M879.65,210.11 L879.65,209.21 C880.65,207.61 881.55,205.51 883.45,205.51 L887.45,205.51 C889.35,205.51 890.25,207.61 891.25,209.21 L891.25,210.11 Z M879.65,212.04 L879.65,212.94 C880.65,214.54 881.55,216.64 883.45,216.64 L887.45,216.64 C889.35,216.64 890.25,214.54 891.25,212.94 L891.25,212.04 Z M879.65,223.17 L879.65,222.27 C880.65,220.67 881.55,218.57 883.45,218.57 L887.45,218.57 C889.35,218.57 890.25,220.67 891.25,222.27 L891.25,223.17 Z M879.65,225.10 L879.65,226.00 C880.65,227.60 881.55,229.70 883.45,229.70 L887.45,229.70 C889.35,229.70 890.25,227.60 891.25,226.00 L891.25,225.10 Z M879.65,236.23 L879.65,235.33 C880.65,233.73 881.55,231.63 883.45,231.63 L887.45,231.63 C889.35,231.63 890.25,233.73 891.25,235.33 L891.25,236.23 Z M879.65,238.16 L879.65,239.06 C880.65,240.66 881.55,242.76 883.45,242.76 L887.45,242.76 C889.35,242.76 890.25,240.66 891.25,239.06 L891.25,238.16 Z M879.65,249.29 L879.65,248.39 C880.65,246.79 881.55,244.69 883.45,244.69 L887.45,244.69 C889.35,244.69 890.25,246.79 891.25,248.39 L891.25,249.29 Z M892.80,164.40 L892.80,163.50 C893.80,161.90 894.70,159.80 896.60,159.80 L901.00,159.80 C902.90,159.80 903.80,161.90 904.80,163.50 L904.80,164.40 Z M892.80,166.33 L892.80,167.23 C893.80,168.83 894.70,170.93 896.60,170.93 L901.00,170.93 C902.90,170.93 903.80,168.83 904.80,167.23 L904.80,166.33 Z M892.80,177.46 L892.80,176.56 C893.80,174.96 894.70,172.86 896.60,172.86 L901.00,172.86 C902.90,172.86 903.80,174.96 904.80,176.56 L904.80,177.46 Z M892.80,179.39 L892.80,180.29 C893.80,181.89 894.70,183.99 896.60,183.99 L901.00,183.99 C902.90,183.99 903.80,181.89 904.80,180.29 L904.80,179.39 Z M892.80,190.52 L892.80,189.62 C893.80,188.02 894.70,185.92 896.60,185.92 L901.00,185.92 C902.90,185.92 903.80,188.02 904.80,189.62 L904.80,190.52 Z M892.80,192.45 L892.80,193.35 C893.80,194.95 894.70,197.05 896.60,197.05 L901.00,197.05 C902.90,197.05 903.80,194.95 904.80,193.35 L904.80,192.45 Z M892.80,203.58 L892.80,202.68 C893.80,201.08 894.70,198.98 896.60,198.98 L901.00,198.98 C902.90,198.98 903.80,201.08 904.80,202.68 L904.80,203.58 Z M892.80,205.51 L892.80,206.41 C893.80,208.01 894.70,210.11 896.60,210.11 L901.00,210.11 C902.90,210.11 903.80,208.01 904.80,206.41 L904.80,205.51 Z M892.80,216.64 L892.80,215.74 C893.80,214.14 894.70,212.04 896.60,212.04 L901.00,212.04 C902.90,212.04 903.80,214.14 904.80,215.74 L904.80,216.64 Z M892.80,218.57 L892.80,219.47 C893.80,221.07 894.70,223.17 896.60,223.17 L901.00,223.17 C902.90,223.17 903.80,221.07 904.80,219.47 L904.80,218.57 Z M892.80,229.70 L892.80,228.80 C893.80,227.20 894.70,225.10 896.60,225.10 L901.00,225.10 C902.90,225.10 903.80,227.20 904.80,228.80 L904.80,229.70 Z M892.80,231.63 L892.80,232.53 C893.80,234.13 894.70,236.23 896.60,236.23 L901.00,236.23 C902.90,236.23 903.80,234.13 904.80,232.53 L904.80,231.63 Z M892.80,242.76 L892.80,241.86 C893.80,240.26 894.70,238.16 896.60,238.16 L901.00,238.16 C902.90,238.16 903.80,240.26 904.80,241.86 L904.80,242.76 Z M892.80,244.69 L892.80,245.59 C893.80,247.19 894.70,249.29 896.60,249.29 L901.00,249.29 C902.90,249.29 903.80,247.19 904.80,245.59 L904.80,244.69 Z M906.65,159.80 L906.65,160.70 C907.65,162.30 908.55,164.40 910.45,164.40 L914.45,164.40 C916.35,164.40 917.25,162.30 918.25,160.70 L918.25,159.80 Z M906.65,170.93 L906.65,170.03 C907.65,168.43 908.55,166.33 910.45,166.33 L914.45,166.33 C916.35,166.33 917.25,168.43 918.25,170.03 L918.25,170.93 Z M906.65,172.86 L906.65,173.76 C907.65,175.36 908.55,177.46 910.45,177.46 L914.45,177.46 C916.35,177.46 917.25,175.36 918.25,173.76 L918.25,172.86 Z M906.65,183.99 L906.65,183.09 C907.65,181.49 908.55,179.39 910.45,179.39 L914.45,179.39 C916.35,179.39 917.25,181.49 918.25,183.09 L918.25,183.99 Z M906.65,185.92 L906.65,186.82 C907.65,188.42 908.55,190.52 910.45,190.52 L914.45,190.52 C916.35,190.52 917.25,188.42 918.25,186.82 L918.25,185.92 Z M906.65,197.05 L906.65,196.15 C907.65,194.55 908.55,192.45 910.45,192.45 L914.45,192.45 C916.35,192.45 917.25,194.55 918.25,196.15 L918.25,197.05 Z M906.65,198.98 L906.65,199.88 C907.65,201.48 908.55,203.58 910.45,203.58 L914.45,203.58 C916.35,203.58 917.25,201.48 918.25,199.88 L918.25,198.98 Z M906.65,210.11 L906.65,209.21 C907.65,207.61 908.55,205.51 910.45,205.51 L914.45,205.51 C916.35,205.51 917.25,207.61 918.25,209.21 L918.25,210.11 Z M906.65,212.04 L906.65,212.94 C907.65,214.54 908.55,216.64 910.45,216.64 L914.45,216.64 C916.35,216.64 917.25,214.54 918.25,212.94 L918.25,212.04 Z M906.65,223.17 L906.65,222.27 C907.65,220.67 908.55,218.57 910.45,218.57 L914.45,218.57 C916.35,218.57 917.25,220.67 918.25,222.27 L918.25,223.17 Z M906.65,225.10 L906.65,226.00 C907.65,227.60 908.55,229.70 910.45,229.70 L914.45,229.70 C916.35,229.70 917.25,227.60 918.25,226.00 L918.25,225.10 Z M906.65,236.23 L906.65,235.33 C907.65,233.73 908.55,231.63 910.45,231.63 L914.45,231.63 C916.35,231.63 917.25,233.73 918.25,235.33 L918.25,236.23 Z M906.65,238.16 L906.65,239.06 C907.65,240.66 908.55,242.76 910.45,242.76 L914.45,242.76 C916.35,242.76 917.25,240.66 918.25,239.06 L918.25,238.16 Z M906.65,249.29 L906.65,248.39 C907.65,246.79 908.55,244.69 910.45,244.69 L914.45,244.69 C916.35,244.69 917.25,246.79 918.25,248.39 L918.25,249.29 Z M919.80,164.40 L919.80,163.50 C920.80,161.90 921.70,159.80 923.60,159.80 L928.00,159.80 C929.90,159.80 930.80,161.90 931.80,163.50 L931.80,164.40 Z M919.80,166.33 L919.80,167.23 C920.80,168.83 921.70,170.93 923.60,170.93 L928.00,170.93 C929.90,170.93 930.80,168.83 931.80,167.23 L931.80,166.33 Z M919.80,177.46 L919.80,176.56 C920.80,174.96 921.70,172.86 923.60,172.86 L928.00,172.86 C929.90,172.86 930.80,174.96 931.80,176.56 L931.80,177.46 Z M919.80,179.39 L919.80,180.29 C920.80,181.89 921.70,183.99 923.60,183.99 L928.00,183.99 C929.90,183.99 930.80,181.89 931.80,180.29 L931.80,179.39 Z M919.80,190.52 L919.80,189.62 C920.80,188.02 921.70,185.92 923.60,185.92 L928.00,185.92 C929.90,185.92 930.80,188.02 931.80,189.62 L931.80,190.52 Z M919.80,192.45 L919.80,193.35 C920.80,194.95 921.70,197.05 923.60,197.05 L928.00,197.05 C929.90,197.05 930.80,194.95 931.80,193.35 L931.80,192.45 Z M919.80,203.58 L919.80,202.68 C920.80,201.08 921.70,198.98 923.60,198.98 L928.00,198.98 C929.90,198.98 930.80,201.08 931.80,202.68 L931.80,203.58 Z M919.80,205.51 L919.80,206.41 C920.80,208.01 921.70,210.11 923.60,210.11 L928.00,210.11 C929.90,210.11 930.80,208.01 931.80,206.41 L931.80,205.51 Z M919.80,216.64 L919.80,215.74 C920.80,214.14 921.70,212.04 923.60,212.04 L928.00,212.04 C929.90,212.04 930.80,214.14 931.80,215.74 L931.80,216.64 Z M919.80,218.57 L919.80,219.47 C920.80,221.07 921.70,223.17 923.60,223.17 L928.00,223.17 C929.90,223.17 930.80,221.07 931.80,219.47 L931.80,218.57 Z M919.80,229.70 L919.80,228.80 C920.80,227.20 921.70,225.10 923.60,225.10 L928.00,225.10 C929.90,225.10 930.80,227.20 931.80,228.80 L931.80,229.70 Z M919.80,231.63 L919.80,232.53 C920.80,234.13 921.70,236.23 923.60,236.23 L928.00,236.23 C929.90,236.23 930.80,234.13 931.80,232.53 L931.80,231.63 Z M919.80,242.76 L919.80,241.86 C920.80,240.26 921.70,238.16 923.60,238.16 L928.00,238.16 C929.90,238.16 930.80,240.26 931.80,241.86 L931.80,242.76 Z M919.80,244.69 L919.80,245.59 C920.80,247.19 921.70,249.29 923.60,249.29 L928.00,249.29 C929.90,249.29 930.80,247.19 931.80,245.59 L931.80,244.69 Z M933.65,159.80 L933.65,160.70 C934.65,162.30 935.55,164.40 937.45,164.40 L941.45,164.40 C943.35,164.40 944.25,162.30 945.25,160.70 L945.25,159.80 Z M933.65,170.93 L933.65,170.03 C934.65,168.43 935.55,166.33 937.45,166.33 L941.45,166.33 C943.35,166.33 944.25,168.43 945.25,170.03 L945.25,170.93 Z M933.65,172.86 L933.65,173.76 C934.65,175.36 935.55,177.46 937.45,177.46 L941.45,177.46 C943.35,177.46 944.25,175.36 945.25,173.76 L945.25,172.86 Z M933.65,183.99 L933.65,183.09 C934.65,181.49 935.55,179.39 937.45,179.39 L941.45,179.39 C943.35,179.39 944.25,181.49 945.25,183.09 L945.25,183.99 Z M933.65,185.92 L933.65,186.82 C934.65,188.42 935.55,190.52 937.45,190.52 L941.45,190.52 C943.35,190.52 944.25,188.42 945.25,186.82 L945.25,185.92 Z M933.65,197.05 L933.65,196.15 C934.65,194.55 935.55,192.45 937.45,192.45 L941.45,192.45 C943.35,192.45 944.25,194.55 945.25,196.15 L945.25,197.05 Z M933.65,198.98 L933.65,199.88 C934.65,201.48 935.55,203.58 937.45,203.58 L941.45,203.58 C943.35,203.58 944.25,201.48 945.25,199.88 L945.25,198.98 Z M933.65,210.11 L933.65,209.21 C934.65,207.61 935.55,205.51 937.45,205.51 L941.45,205.51 C943.35,205.51 944.25,207.61 945.25,209.21 L945.25,210.11 Z M933.65,212.04 L933.65,212.94 C934.65,214.54 935.55,216.64 937.45,216.64 L941.45,216.64 C943.35,216.64 944.25,214.54 945.25,212.94 L945.25,212.04 Z M933.65,223.17 L933.65,222.27 C934.65,220.67 935.55,218.57 937.45,218.57 L941.45,218.57 C943.35,218.57 944.25,220.67 945.25,222.27 L945.25,223.17 Z M933.65,225.10 L933.65,226.00 C934.65,227.60 935.55,229.70 937.45,229.70 L941.45,229.70 C943.35,229.70 944.25,227.60 945.25,226.00 L945.25,225.10 Z M933.65,236.23 L933.65,235.33 C934.65,233.73 935.55,231.63 937.45,231.63 L941.45,231.63 C943.35,231.63 944.25,233.73 945.25,235.33 L945.25,236.23 Z M933.65,238.16 L933.65,239.06 C934.65,240.66 935.55,242.76 937.45,242.76 L941.45,242.76 C943.35,242.76 944.25,240.66 945.25,239.06 L945.25,238.16 Z M933.65,249.29 L933.65,248.39 C934.65,246.79 935.55,244.69 937.45,244.69 L941.45,244.69 C943.35,244.69 944.25,246.79 945.25,248.39 L945.25,249.29 Z M946.80,164.40 L946.80,163.50 C947.80,161.90 948.70,159.80 950.60,159.80 L955.00,159.80 C956.90,159.80 957.80,161.90 958.80,163.50 L958.80,164.40 Z M946.80,166.33 L946.80,167.23 C947.80,168.83 948.70,170.93 950.60,170.93 L955.00,170.93 C956.90,170.93 957.80,168.83 958.80,167.23 L958.80,166.33 Z M946.80,177.46 L946.80,176.56 C947.80,174.96 948.70,172.86 950.60,172.86 L955.00,172.86 C956.90,172.86 957.80,174.96 958.80,176.56 L958.80,177.46 Z M946.80,179.39 L946.80,180.29 C947.80,181.89 948.70,183.99 950.60,183.99 L955.00,183.99 C956.90,183.99 957.80,181.89 958.80,180.29 L958.80,179.39 Z M946.80,190.52 L946.80,189.62 C947.80,188.02 948.70,185.92 950.60,185.92 L955.00,185.92 C956.90,185.92 957.80,188.02 958.80,189.62 L958.80,190.52 Z M946.80,192.45 L946.80,193.35 C947.80,194.95 948.70,197.05 950.60,197.05 L955.00,197.05 C956.90,197.05 957.80,194.95 958.80,193.35 L958.80,192.45 Z M946.80,203.58 L946.80,202.68 C947.80,201.08 948.70,198.98 950.60,198.98 L955.00,198.98 C956.90,198.98 957.80,201.08 958.80,202.68 L958.80,203.58 Z M946.80,205.51 L946.80,206.41 C947.80,208.01 948.70,210.11 950.60,210.11 L955.00,210.11 C956.90,210.11 957.80,208.01 958.80,206.41 L958.80,205.51 Z M946.80,216.64 L946.80,215.74 C947.80,214.14 948.70,212.04 950.60,212.04 L955.00,212.04 C956.90,212.04 957.80,214.14 958.80,215.74 L958.80,216.64 Z M946.80,218.57 L946.80,219.47 C947.80,221.07 948.70,223.17 950.60,223.17 L955.00,223.17 C956.90,223.17 957.80,221.07 958.80,219.47 L958.80,218.57 Z M946.80,229.70 L946.80,228.80 C947.80,227.20 948.70,225.10 950.60,225.10 L955.00,225.10 C956.90,225.10 957.80,227.20 958.80,228.80 L958.80,229.70 Z M946.80,231.63 L946.80,232.53 C947.80,234.13 948.70,236.23 950.60,236.23 L955.00,236.23 C956.90,236.23 957.80,234.13 958.80,232.53 L958.80,231.63 Z M946.80,242.76 L946.80,241.86 C947.80,240.26 948.70,238.16 950.60,238.16 L955.00,238.16 C956.90,238.16 957.80,240.26 958.80,241.86 L958.80,242.76 Z M946.80,244.69 L946.80,245.59 C947.80,247.19 948.70,249.29 950.60,249.29 L955.00,249.29 C956.90,249.29 957.80,247.19 958.80,245.59 L958.80,244.69 Z"/>
</g>
</g>
<circle cx="813.3" cy="314.4" r="116.8" fill="none" stroke="#231f20" stroke-width="1.0"/>


<g fill="none" stroke="#231f20" stroke-width="3">
<path d="M389,64.5 L323.8,64.5 A14,14 0 0 0 309.8,78.5 L309.8,173"/>
<path d="M783,64.5 L835.2,64.5 A14,14 0 0 1 849.2,78.5 L849.2,173"/>
<rect x="389.2" y="35.4" width="393.8" height="54.6" rx="11.5" fill="#fff"/>
</g>
<circle cx="310" cy="173.2" r="5.9" fill="#231f20"/>
<circle cx="849.2" cy="173.4" r="5.9" fill="#231f20"/>
<text y="74.2" font-family="'Liberation Sans', sans-serif" font-weight="700" font-size="29.2" fill="#231f20" stroke="#231f20" stroke-width="0.3"><tspan x="471.1" textLength="150.89" lengthAdjust="spacingAndGlyphs">Wall-Mount</tspan> <tspan x="631.93" textLength="69.35" lengthAdjust="spacingAndGlyphs">Slots</tspan></text>


<rect x="28.1" y="316.6" width="360.2" height="54.6" rx="11.5" fill="#d1d3d4"/>
<text y="353.8" font-family="'Liberation Sans', sans-serif" font-weight="700" font-size="24.3" fill="#231f20" stroke="#231f20" stroke-width="0.35"><tspan x="81.34" textLength="90.58" lengthAdjust="spacingAndGlyphs">Bottom</tspan> <tspan x="177.94" textLength="24.29" lengthAdjust="spacingAndGlyphs">of</tspan> <tspan x="209.64" textLength="77.07" lengthAdjust="spacingAndGlyphs">Sound</tspan> <tspan x="292.6" textLength="41.2" lengthAdjust="spacingAndGlyphs">Bar</tspan></text>

<path fill="#231f20" d="M792.50,286.80 L777.24,318.50 L776.28,306.71 L681.02,398.69 L676.78,394.31 L772.04,302.32 L760.29,300.95 Z"/>

<rect x="151.5" y="397.0" width="549.7" height="102.2" rx="12" fill="#fff" stroke="#4d4d4f" stroke-width="2.4"/>
<g id="bulb" fill="none" stroke="#4d4d4e" stroke-linecap="round">
<path d="M193.4,465.9 C190.6,459.3 186.6,455.2 184.3,451.2 A18.2,18.2 0 1 1 216.0,451.2 C213.7,455.2 209.7,459.3 206.9,465.9 Z" fill="#dddcdc" stroke-width="3.1" stroke-linejoin="round"/>
<path stroke-width="3" d="M192.8,470.9 H207.5 M193.8,475.9 H206.5 M194.9,480.8 H205.4"/>
<path stroke-width="3.0" d="M200.2,412.6 V417.3 M183.2,417.7 L185.6,421.3 M217.2,417.7 L214.8,421.5 M172.4,431.5 L176.4,433.4 M228.3,431.9 L224.0,433.8 M171.6,449.4 L175.6,448.0 M228.7,449.9 L224.7,448.3"/>
</g>
<g font-family="'Liberation Sans', sans-serif" font-size="22.5" fill="#231f20" stroke="#231f20" stroke-width="0.25">
<text y="443.9"><tspan x="259.32" textLength="60.66" lengthAdjust="spacingAndGlyphs" font-weight="700">Note:</tspan> <tspan x="325.26" textLength="56.25" lengthAdjust="spacingAndGlyphs">When</tspan> <tspan x="388.9" textLength="37.88" lengthAdjust="spacingAndGlyphs">wall</tspan> <tspan x="432.91" textLength="98.15" lengthAdjust="spacingAndGlyphs">mounting</tspan> <tspan x="537.93" textLength="33.47" lengthAdjust="spacingAndGlyphs">the</tspan> <tspan x="575.82" textLength="63.49" lengthAdjust="spacingAndGlyphs">sound</tspan> <tspan x="645.98" textLength="38.08" lengthAdjust="spacingAndGlyphs">bar,</tspan></text>
<text y="468.2"><tspan x="261.25" textLength="54.89" lengthAdjust="spacingAndGlyphs">these</tspan> <tspan x="321.88" textLength="68.8" lengthAdjust="spacingAndGlyphs">arrows</tspan> <tspan x="397.6" textLength="70.66" lengthAdjust="spacingAndGlyphs">should</tspan> <tspan x="472.23" textLength="50.91" lengthAdjust="spacingAndGlyphs">point</tspan> <tspan x="530.77" textLength="93.22" lengthAdjust="spacingAndGlyphs">upwards.</tspan></text>
</g>

</svg>
</body></html>
